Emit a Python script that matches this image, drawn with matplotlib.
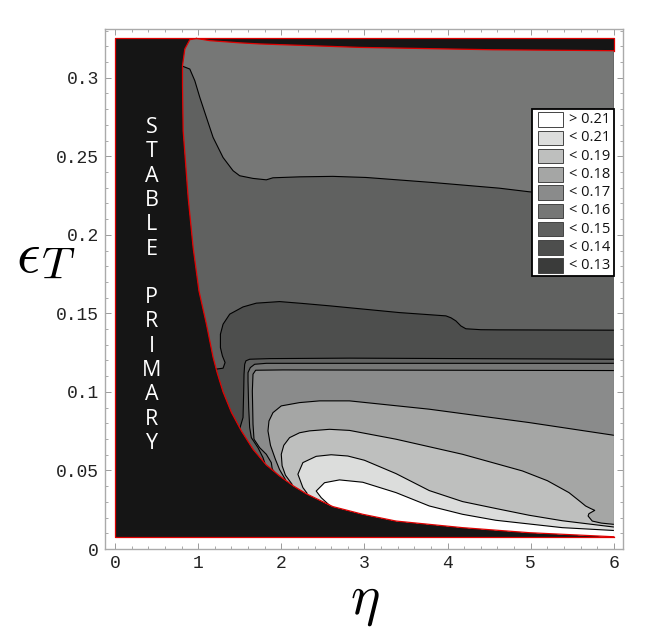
import matplotlib.pyplot as plt
from matplotlib.patches import Polygon, Rectangle
from matplotlib.ticker import FuncFormatter, MultipleLocator

plt.rcParams["mathtext.fontset"] = "cm"

# plotted range of the contour plot
eta_range = (0.0, 6.0)
eps_range = (0.0075, 0.325)

# red outline of the stable-primary region, from the top corner down to eta = 6
edge_eta = [0.98, 0.90, 0.84, 0.812, 0.812, 0.82, 0.88, 0.94, 1.01, 1.10, 1.18, 1.23, 1.30,
            1.40, 1.52, 1.66, 1.82, 1.98, 2.15, 2.30, 2.62, 2.98, 3.38, 4.18, 4.98, 6.0]
edge_eps = [0.3250, 0.3242, 0.3183, 0.3076, 0.2949, 0.2662, 0.2238, 0.1919, 0.1643, 0.1431,
            0.1220, 0.1120, 0.1000, 0.0870, 0.0752, 0.0635, 0.0535, 0.0465, 0.0400, 0.0352,
            0.0270, 0.0221, 0.0178, 0.0136, 0.0104, 0.0078]
# thin stable strip along the top
top_eta = [0.98, 1.14, 1.50, 1.74, 2.94, 4.54, 6.0]
top_eps = [0.3250, 0.3236, 0.3222, 0.3215, 0.3193, 0.3178, 0.3172]

# contour lines, traced from the stable region out to eta = 6
line_a_eta = [0.80, 0.90, 0.96, 1.02, 1.10, 1.18, 1.30, 1.42, 1.50, 1.66, 1.82, 1.90, 2.22,
              2.62, 3.02, 3.82, 4.62, 4.98, 6.0]
line_a_eps = [0.3076, 0.3055, 0.2981, 0.2875, 0.2747, 0.2620, 0.2492, 0.2408, 0.2376, 0.2359,
              0.2350, 0.2363, 0.2369, 0.2372, 0.2365, 0.2333, 0.2297, 0.2274, 0.2225]

line_b_eta = [1.20, 1.30, 1.324, 1.292, 1.268, 1.268, 1.30, 1.38, 1.54, 1.70, 1.98, 2.26, 2.58,
              3.42, 3.98, 4.04, 4.10, 4.16, 4.22, 4.40, 4.62, 6.0]
line_b_eps = [0.1144, 0.1151, 0.1187, 0.1229, 0.1282, 0.1367, 0.1431, 0.1495, 0.1541, 0.1565,
              0.1575, 0.1563, 0.1548, 0.1505, 0.1484, 0.1472, 0.1452, 0.1420, 0.1402, 0.1396,
              0.1395, 0.1393]

line_c_eta = [1.50, 1.540, 1.548, 1.552, 1.560, 1.575, 1.620, 1.860, 2.820, 6.0]
line_c_eps = [0.0765, 0.0837, 0.1006, 0.1113, 0.1176, 0.1198, 0.1208, 0.1212, 0.1215, 0.1208]

line_d_eta = [1.80, 1.780, 1.720, 1.640, 1.620, 1.608, 1.600, 1.600, 1.628, 1.680, 1.820, 6.0]
line_d_eps = [0.0550, 0.0582, 0.0645, 0.0709, 0.0773, 0.0900, 0.1070, 0.1123, 0.1155, 0.1176,
              0.1182, 0.1182]

line_e_eta = [1.94, 1.892, 1.880, 1.820, 1.740, 1.672, 1.660, 1.652, 1.660, 1.692, 2.020, 6.0]
line_e_eps = [0.0476, 0.0508, 0.0550, 0.0603, 0.0645, 0.0699, 0.0794, 0.1006, 0.1113, 0.1138,
              0.1140, 0.1136]

line_f_eta = [2.05, 1.98, 1.93, 1.87, 1.84, 1.852, 1.90, 2.00, 2.22, 2.46, 2.82, 3.78, 4.98, 6.0]
line_f_eps = [0.0442, 0.0505, 0.0570, 0.0660, 0.0752, 0.0815, 0.0868, 0.0911, 0.0932, 0.0943,
              0.0943, 0.0890, 0.0805, 0.0724]

line_g_eta = [2.13, 2.05, 2.01, 2.00, 2.03, 2.10, 2.22, 2.34, 2.58, 2.82, 3.38, 4.18, 4.90,
              5.20, 5.46, 5.60, 5.66, 5.72, 5.77, 5.70, 5.69, 5.74, 5.85, 6.0]
line_g_eps = [0.0412, 0.0470, 0.0530, 0.0603, 0.0660, 0.0709, 0.0740, 0.0752, 0.0762, 0.0755,
              0.0699, 0.0603, 0.0497, 0.0435, 0.0359, 0.0300, 0.0274, 0.0258, 0.0246, 0.0225,
              0.0210, 0.0178, 0.0165, 0.0157]

line_h_eta = [2.31, 2.26, 2.20, 2.26, 2.42, 2.60, 2.80, 3.00, 3.38, 3.78, 4.18, 4.58, 4.98,
              5.38, 6.0]
line_h_eps = [0.0355, 0.0391, 0.0476, 0.0550, 0.0590, 0.0600, 0.0592, 0.0565, 0.0480, 0.0372,
              0.0302, 0.0258, 0.0215, 0.0180, 0.0140]

line_i_eta = [2.58, 2.48, 2.42, 2.52, 2.70, 2.98, 3.38, 3.78, 4.18, 4.58, 5.38, 6.0]
line_i_eps = [0.0278, 0.0327, 0.0369, 0.0422, 0.0440, 0.0425, 0.0359, 0.0274, 0.0221, 0.0183,
              0.0136, 0.0118]

level_labels = ["> 0.21", "< 0.21", "< 0.19", "< 0.18", "< 0.17",
                "< 0.16", "< 0.15", "< 0.14", "< 0.13"]
level_colors = ["#ffffff", "#dcdddc", "#bebfbe", "#a5a6a5", "#8a8b8b",
                "#767776", "#606160", "#4d4e4d", "#3a3b3a"]
stable_color = "#151515"
stable_label = ["STABLE", "PRIMARY"]

fig = plt.figure(figsize=(6.51, 6.32), dpi=100)
ax = fig.add_axes([0.1613, 0.1313, 0.7957, 0.8228])
ax.set_xlim(-0.12, 6.11)
ax.set_ylim(0, 0.331)

ax.add_patch(Rectangle((eta_range[0], eps_range[0]), eta_range[1] - eta_range[0],
                       eps_range[1] - eps_range[0], facecolor=stable_color,
                       edgecolor="none", zorder=1))

region = Polygon(list(zip(top_eta + edge_eta[::-1], top_eps + edge_eps[::-1])), closed=True,
                 facecolor=level_colors[5], edgecolor="none", zorder=2)
ax.add_patch(region)

# each line: area below it gets the next shade
bands = [
    (line_a_eta, line_a_eps, level_colors[6]),
    (line_b_eta, line_b_eps, level_colors[7]),
    (line_c_eta, line_c_eps, level_colors[6]),
    (line_d_eta, line_d_eps, level_colors[5]),
    (line_e_eta, line_e_eps, level_colors[4]),
    (line_f_eta, line_f_eps, level_colors[3]),
    (line_g_eta, line_g_eps, level_colors[2]),
    (line_h_eta, line_h_eps, level_colors[1]),
    (line_i_eta, line_i_eps, level_colors[0]),
]
for xs, ys, color in bands:
    poly_x = xs + [6.5, 6.5, xs[0] - 0.05, xs[0] - 0.05]
    poly_y = ys + [ys[-1], -1, -1, ys[0]]
    patch = Polygon(list(zip(poly_x, poly_y)), closed=True, facecolor=color,
                    edgecolor="none", zorder=3)
    ax.add_patch(patch)
    patch.set_clip_path(region)
    (ln,) = ax.plot(xs, ys, color="black", lw=0.8, zorder=4)
    ln.set_clip_path(region)

red = "#e00000"
ax.plot(edge_eta, edge_eps, color=red, lw=0.9, zorder=5)
ax.plot(top_eta, top_eps, color=red, lw=0.9, zorder=5)
ax.plot([eta_range[1], eta_range[1], eta_range[0], eta_range[0], eta_range[1], eta_range[1]],
        [top_eps[-1], eps_range[1], eps_range[1], eps_range[0], eps_range[0], edge_eps[-1]],
        color=red, lw=0.9, zorder=5)

# vertical "STABLE PRIMARY" lettering
letters = stable_label[0] + " " + stable_label[1]
for i, ch in enumerate(letters):
    if ch == " ":
        continue
    ax.text(0.0898, (549 - 127.5 - 24.3 * i) / 520, ch, transform=ax.transAxes,
            ha="center", va="center", color="white", fontsize=15.5, family="Open Sans",
            zorder=6)

# legend
ax.add_patch(Rectangle((0.8243, 0.5255), 0.1583, 0.3212, transform=ax.transAxes,
                       facecolor="white", edgecolor="black", lw=1.3, zorder=7))
for i, (lab, col) in enumerate(zip(level_labels, level_colors)):
    yc = (549 - 119.5 - 18.25 * i) / 520
    ax.add_patch(Rectangle((0.8365, yc - 0.0140), 0.0483, 0.0279, transform=ax.transAxes,
                           facecolor=col, edgecolor="#444444", lw=0.7, zorder=8))
    ax.text(0.8963, yc, lab, transform=ax.transAxes, ha="left", va="center",
            fontsize=10.5, family="Open Sans", color="#111111", zorder=8)

ax.xaxis.set_major_locator(MultipleLocator(1))
ax.xaxis.set_minor_locator(MultipleLocator(0.2))
ax.yaxis.set_major_locator(MultipleLocator(0.05))
ax.yaxis.set_minor_locator(MultipleLocator(0.01))
ax.yaxis.set_major_formatter(FuncFormatter(lambda v, _: f"{v:.2f}".rstrip("0").rstrip(".")))
ax.xaxis.set_major_formatter(FuncFormatter(lambda v, _: f"{v:.0f}"))
ax.tick_params(which="both", direction="in", top=True, right=True, color="#9a9a9a",
               labelcolor="#222222", labelsize=13)
ax.tick_params(which="major", length=4, width=0.7, pad=4.5)
ax.tick_params(which="minor", length=2.2, width=0.6)
for lab in ax.get_xticklabels() + ax.get_yticklabels():
    lab.set_family("Liberation Mono")
for sp in ax.spines.values():
    sp.set_color("#aaaaaa")
    sp.set_linewidth(1.0)

fig.text(365 / 651, 1 - 601 / 632, r"$\eta$", ha="center", va="center", fontsize=40)
fig.text(16 / 651, 1 - 272 / 632, r"$\epsilon$", ha="left", va="baseline", fontsize=42)
fig.text(41 / 651, 1 - 279 / 632, r"$T$", ha="left", va="baseline", fontsize=33)

fig.savefig("out.png", dpi=100)
